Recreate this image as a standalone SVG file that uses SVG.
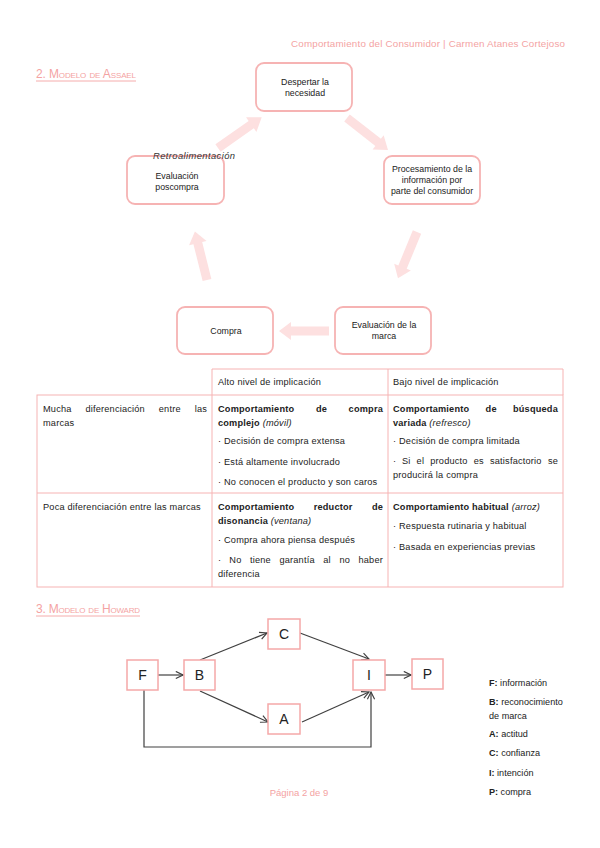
<svg xmlns="http://www.w3.org/2000/svg" width="600" height="848" viewBox="0 0 600 848">
<style>
.pk{fill:#f4a3a3;font-family:"Liberation Sans",Arial,sans-serif}
.hd{font-size:9.8px}
.ttl{font-size:12px;font-variant:small-caps;fill:#f4a3a3;font-family:"Liberation Sans",Arial,sans-serif}
.bx{fill:#fff;stroke:#f6b3b3;stroke-width:1.8}
.t{font-family:"Liberation Sans",Arial,sans-serif;font-size:8.8px;fill:#222}
.tt{font-family:"Liberation Sans",Arial,sans-serif;font-size:9.2px;letter-spacing:0.2px;fill:#222}
.c{text-anchor:middle}
.e{text-anchor:end}
.b{font-weight:bold}
.i{font-style:italic}
.blk{fill:#fde0e0}
.tb{stroke:#f6b3b3;stroke-width:1;fill:none}
.hb{fill:#fff;stroke:#f5a8a8;stroke-width:1.5}
.hl{font-family:"Liberation Sans",Arial,sans-serif;font-size:14px;fill:#222;text-anchor:middle}
.cn{stroke:#404040;stroke-width:1.2;fill:none}
.lg{font-family:"Liberation Sans",Arial,sans-serif;font-size:9.1px;fill:#222}
</style>
<defs>
<marker id="ah" viewBox="0 0 10 10" refX="9" refY="5" markerWidth="9" markerHeight="9" markerUnits="userSpaceOnUse" orient="auto">
<path d="M1,1 L9,5 L1,9" fill="none" stroke="#404040" stroke-width="1.3"/>
</marker>
<path id="blockArrow" d="M0,-4.5 L38,-4.5 L38,-9 L50,0 L38,9 L38,4.5 L0,4.5 Z"/>
</defs>
<rect width="600" height="848" fill="#fff"/>

<text class="pk hd" x="565" y="47" text-anchor="end" textLength="274">Comportamiento del Consumidor | Carmen Atanes Cortejoso</text>

<text class="ttl" x="36" y="78" textLength="100">2. Modelo de Assael</text>
<line x1="36" y1="81" x2="136" y2="81" stroke="#f4a3a3" stroke-width="0.9"/>

<g id="assael-arrows">
<use href="#blockArrow" class="blk" transform="translate(218,148) rotate(-35.2) scale(1.07,1)"/>
<use href="#blockArrow" class="blk" transform="translate(347,118) rotate(38) scale(1.04,1)"/>
<use href="#blockArrow" class="blk" transform="translate(417,232) rotate(112.4)"/>
<use href="#blockArrow" class="blk" transform="translate(329,331) rotate(180)"/>
<use href="#blockArrow" class="blk" transform="translate(207,280) rotate(-104)"/>
</g>

<g id="n-despertar">
<rect class="bx" x="256" y="63" width="96" height="48" rx="8"/>
<text class="t c" x="305" y="85">Despertar la</text>
<text class="t c" x="305" y="96">necesidad</text>
</g>
<g id="n-procesamiento">
<rect class="bx" x="384" y="156" width="96" height="48" rx="8"/>
<text class="t c" x="432" y="172">Procesamiento de la</text>
<text class="t c" x="432" y="183">información por</text>
<text class="t c" x="432" y="194">parte del consumidor</text>
</g>
<g id="n-evalmarca">
<rect class="bx" x="335" y="307" width="96" height="47" rx="8"/>
<text class="t c" x="384" y="328">Evaluación de la</text>
<text class="t c" x="384" y="339">marca</text>
</g>
<g id="n-compra">
<rect class="bx" x="177" y="307" width="96" height="47" rx="8"/>
<text class="t c" x="226" y="334">Compra</text>
</g>
<g id="n-poscompra">
<rect class="bx" x="127" y="156" width="97" height="48" rx="8"/>
<text class="t c" x="177" y="179">Evaluación</text>
<text class="t c" x="177" y="190">poscompra</text>
</g>
<text class="i" x="153" y="159" font-family="Liberation Sans, Arial, sans-serif" font-size="9.4" fill="#333" textLength="82">Retroalimentación</text>

<g id="table">
<rect class="tb" x="37" y="395" width="526" height="192"/>
<line class="tb" x1="212" y1="369" x2="563" y2="369"/>
<line class="tb" x1="212" y1="369" x2="212" y2="587"/>
<line class="tb" x1="388" y1="369" x2="388" y2="587"/>
<line class="tb" x1="563" y1="369" x2="563" y2="395"/>
<line class="tb" x1="37" y1="493" x2="563" y2="493"/>

<text class="tt" x="218" y="385">Alto nivel de implicación</text>
<text class="tt" x="393" y="385">Bajo nivel de implicación</text>

<text class="tt" x="43" y="412">Mucha</text>
<text class="tt" x="85.4" y="412">diferenciación</text>
<text class="tt" x="158.8" y="412">entre</text>
<text class="tt e" x="207" y="412">las</text>
<text class="tt" x="43" y="426">marcas</text>

<text class="tt b" x="218" y="412">Comportamiento</text>
<text class="tt b" x="316" y="412">de</text>
<text class="tt b e" x="383" y="412">compra</text>
<text class="tt" x="218" y="426"><tspan class="b">complejo</tspan><tspan class="i"> (móvil)</tspan></text>
<text class="tt" x="218" y="444">· Decisión de compra extensa</text>
<text class="tt" x="218" y="465">· Está altamente involucrado</text>
<text class="tt" x="218" y="485">· No conocen el producto y son caros</text>

<text class="tt b" x="393" y="412">Comportamiento</text>
<text class="tt b" x="485.6" y="412">de</text>
<text class="tt b e" x="558" y="412">búsqueda</text>
<text class="tt" x="393" y="426"><tspan class="b">variada</tspan><tspan class="i"> (refresco)</tspan></text>
<text class="tt" x="393" y="444">· Decisión de compra limitada</text>
<text class="tt" y="464"><tspan x="393">·</tspan><tspan x="401.9">Si</tspan><tspan x="416.6">el</tspan><tspan x="430.3">producto</tspan><tspan x="473.8">es</tspan><tspan x="490">satisfactorio</tspan></text>
<text class="tt e" x="558" y="464">se</text>
<text class="tt" x="393" y="478">producirá la compra</text>

<text class="tt" x="43" y="510">Poca diferenciación entre las marcas</text>

<text class="tt b" x="218" y="510">Comportamiento</text>
<text class="tt b" x="313.7" y="510">reductor</text>
<text class="tt b e" x="383" y="510">de</text>
<text class="tt" x="218" y="524"><tspan class="b">disonancia</tspan><tspan class="i"> (ventana)</tspan></text>
<text class="tt" x="218" y="543">· Compra ahora piensa después</text>
<text class="tt" y="563"><tspan x="218">·</tspan><tspan x="229.3">No</tspan><tspan x="250">tiene</tspan><tspan x="279.4">garantía</tspan><tspan x="323.3">al</tspan><tspan x="339.4">no</tspan></text>
<text class="tt e" x="383" y="563">haber</text>
<text class="tt" x="218" y="577">diferencia</text>

<text class="tt" x="393" y="510"><tspan class="b">Comportamiento habitual</tspan><tspan class="i"> (arroz)</tspan></text>
<text class="tt" x="393" y="529">· Respuesta rutinaria y habitual</text>
<text class="tt" x="393" y="550">· Basada en experiencias previas</text>
</g>

<text class="ttl" x="36" y="613" textLength="104">3. Modelo de Howard</text>
<line x1="36" y1="616" x2="140" y2="616" stroke="#f4a3a3" stroke-width="0.9"/>

<g id="howard-connectors">
<line class="cn" x1="158" y1="675" x2="183" y2="675" marker-end="url(#ah)"/>
<line class="cn" x1="200" y1="660" x2="267" y2="633" marker-end="url(#ah)"/>
<line class="cn" x1="300" y1="633" x2="369" y2="659" marker-end="url(#ah)"/>
<line class="cn" x1="200" y1="691" x2="268" y2="722" marker-end="url(#ah)"/>
<line class="cn" x1="302" y1="722" x2="369" y2="692" marker-end="url(#ah)"/>
<polyline class="cn" points="144,690 144,747 371,747 371,692" marker-end="url(#ah)"/>
<line class="cn" x1="385" y1="675" x2="411" y2="675" marker-end="url(#ah)"/>
</g>

<g id="h-F"><rect class="hb" x="127" y="660" width="31" height="30"/><text class="hl" x="142.5" y="680">F</text></g>
<g id="h-B"><rect class="hb" x="184" y="660" width="31" height="30"/><text class="hl" x="199.5" y="680">B</text></g>
<g id="h-C"><rect class="hb" x="268" y="619" width="32" height="30"/><text class="hl" x="284" y="639">C</text></g>
<g id="h-A"><rect class="hb" x="268" y="704" width="32" height="30"/><text class="hl" x="284" y="724">A</text></g>
<g id="h-I"><rect class="hb" x="353" y="660" width="32" height="30"/><text class="hl" x="369" y="680">I</text></g>
<g id="h-P"><rect class="hb" x="412" y="659" width="31" height="30"/><text class="hl" x="427.5" y="679">P</text></g>

<g id="legend">
<text class="lg" x="489" y="686"><tspan class="b">F:</tspan> información</text>
<text class="lg" x="489" y="705"><tspan class="b">B:</tspan> reconocimiento</text>
<text class="lg" x="489" y="719">de marca</text>
<text class="lg" x="489" y="737"><tspan class="b">A:</tspan> actitud</text>
<text class="lg" x="489" y="756"><tspan class="b">C:</tspan> confianza</text>
<text class="lg" x="489" y="776"><tspan class="b">I:</tspan> intención</text>
<text class="lg" x="489" y="795"><tspan class="b">P:</tspan> compra</text>
</g>

<text class="pk" x="299" y="796" text-anchor="middle" font-size="9.5">Página 2 de 9</text>
</svg>
